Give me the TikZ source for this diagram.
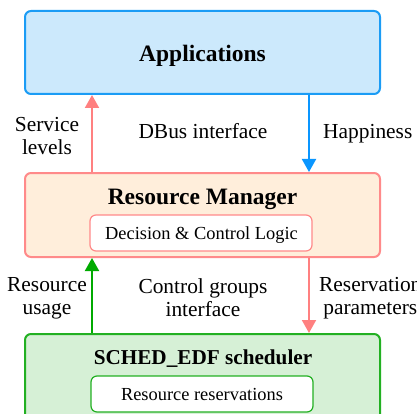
\documentclass[tikz,border=0pt]{standalone}
\usepackage{fontspec}
\setmainfont{Liberation Serif}
\usetikzlibrary{arrows.meta}
\definecolor{bluefill}{HTML}{CCE9FC}
\definecolor{blueline}{HTML}{1B9CF5}
\definecolor{redfill}{HTML}{FFEEDB}
\definecolor{redline}{HTML}{FF8A8A}
\definecolor{greenfill}{HTML}{D6F0D6}
\definecolor{greenline}{HTML}{22B022}
\definecolor{arrred}{HTML}{FF8080}
\definecolor{arrblue}{HTML}{0A96FF}
\definecolor{arrgreen}{HTML}{00AA00}
\tikzset{
  layer/.style={draw, line width=2pt, rounded corners=6pt, minimum width=355pt, inner sep=0pt},
  inner/.style={draw, fill=white, line width=1.2pt, rounded corners=6pt, minimum width=222pt, minimum height=36pt, inner sep=0pt},
  title/.style={font=\bfseries\fontsize{23.5}{26}\selectfont, anchor=base, inner sep=0pt},
  innertext/.style={font=\fontsize{18.4}{21}\selectfont, anchor=base, inner sep=0pt},
  lbl/.style={font=\fontsize{21.4}{23}\selectfont, align=center, inner sep=0pt},
  flow/.style={line width=2pt, -{Triangle[width=14pt,length=13pt]}},
}
\begin{document}
\begin{tikzpicture}[x=1pt,y=-1pt]
\useasboundingbox (0,0) rectangle (417,414);
\clip (0,0) rectangle (417,414);
\node[layer, fill=bluefill, draw=blueline, minimum height=83pt] (apps) at (202.5,52.5) {};
\node[layer, fill=redfill, draw=redline, minimum height=84pt] (rm) at (202.5,215) {};
\node[layer, fill=greenfill, draw=greenline, minimum height=120pt] (sched) at (202.5,394) {};
\node[inner, draw=redline] (dcl) at (201,233) {};
\node[inner, draw=greenline] (rr) at (202,394) {};
\node[title] (appst) at (202.5,61.5) {Applications};
\node[title] (rmt) at (202.5,204) {Resource Manager};
\node[title, font=\bfseries\fontsize{21.2}{24}\selectfont] (schedt) at (203,364) {SCHED\_EDF scheduler};
\node[innertext] (dclt) at (201.5,239) {Decision \& Control Logic};
\node[innertext] (rrt) at (202,400) {Resource reservations};
\coordinate (xl) at (92,0);
\coordinate (xr) at (309,0);
\draw[flow, arrred] (rm.north -| xl) -- (apps.south -| xl);
\draw[flow, arrblue] (apps.south -| xr) -- (rm.north -| xr);
\draw[flow, arrgreen] (sched.north -| xl) -- (rm.south -| xl);
\draw[flow, arrred] (rm.south -| xr) -- (sched.north -| xr);
\node[lbl] (svc) at (47,136) {Service\\levels};
\node[lbl, anchor=base] (dbus) at (203,139) {DBus interface};
\node[lbl, anchor=base west] (happy) at (323,139) {Happiness};
\node[lbl] (ru) at (47,298) {Resource\\usage};
\node[lbl] (cg) at (203,298) {Control groups\\interface};
\node[lbl, anchor=west] (resp) at (319,298) {Reservation\\parameters};
\end{tikzpicture}
\end{document}
